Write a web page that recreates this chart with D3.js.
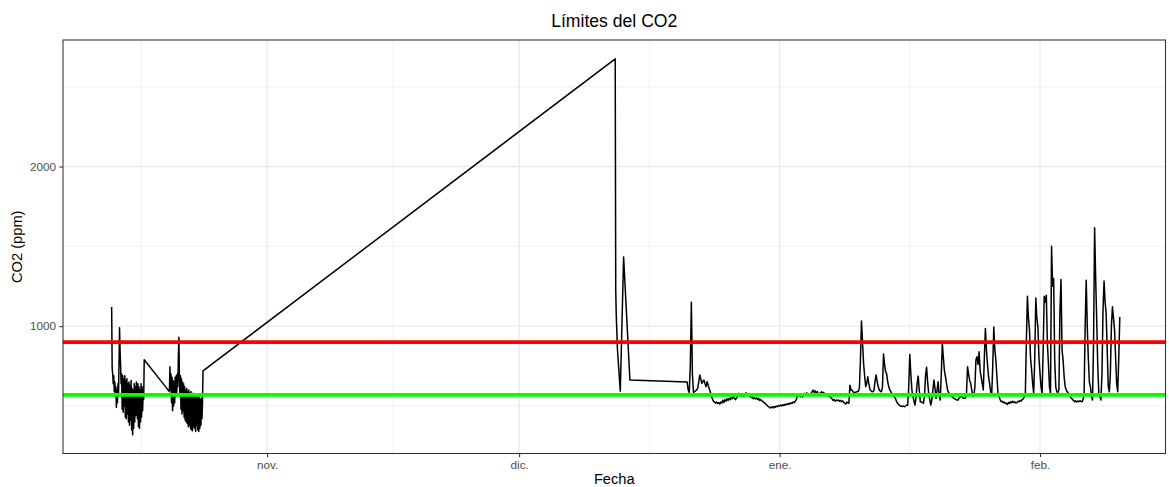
<!DOCTYPE html>
<html>
<head>
<meta charset="utf-8">
<script src="https://cdnjs.cloudflare.com/ajax/libs/d3/7.8.5/d3.min.js"></script>
<style>
  body { margin: 0; background: #fff; }
  text { font-family: "Liberation Sans", Arial, Helvetica, sans-serif; }
</style>
</head>
<body>
<svg id="grafico"></svg>
<script>
// lecturas de octubre, cada 90 minutos
var inicioOct1 = "2022-10-13 12:00";
var co2Oct1 = [1120, 735, 700, 640, 690, 590, 650, 560, 620, 490,
  600, 520, 640, 560, 760, 990, 850, 760, 640, 700,
  480, 690, 460, 670, 500, 690, 430, 660, 420, 670,
  450, 640, 400, 650, 380, 630, 410, 660, 350, 610,
  320, 600, 360, 640, 400, 620, 440, 650, 600, 420,
  640, 370, 620, 360, 600, 400, 640, 430, 620, 470,
  600, 540, 790];

var inicioOct2 = "2022-10-20 09:00";
var co2Oct2 = [590, 745, 600, 700, 520, 680, 470, 660, 500, 650,
  520, 680, 560, 690, 580, 700, 620, 800, 930, 700,
  560, 690, 480, 670, 450, 650, 470, 640, 430, 620,
  410, 600, 400, 610, 390, 590, 370, 600, 380, 580,
  360, 590, 350, 570, 345, 580, 370, 560, 360, 575,
  340, 560, 380, 570, 350, 550, 340, 560, 360, 540,
  380, 550, 420, 520, 720];

// lecturas sueltas de diciembre
var fechasDic = ["2022-12-12 10:30", "2022-12-12 12:00", "2022-12-12 13:30", "2022-12-12 17:00",
  "2022-12-13 01:00", "2022-12-13 10:30", "2022-12-14 04:30"];
var co2Dic = [2675, 1225, 1069, 850, 592, 1433, 662];

// desde el 21 dic., cada 3 horas (una fila por dia)
var inicioInv = "2022-12-21 00:00";
var co2Inv = [
  650, 600, 585, 750, 1150, 700, 585, 590,
  595, 600, 610, 650, 694, 670, 642, 655,
  662, 640, 621, 652, 630, 610, 589, 560,
  545, 530, 525, 518, 525, 515, 522, 512,
  525, 518, 535, 522, 540, 530, 545, 535,
  548, 540, 555, 545, 560, 550, 540, 548,
  565, 580, 562, 575, 560, 572, 558, 570,
  583, 570, 575, 560, 568, 552, 558, 545,
  552, 545, 550, 540, 548, 535, 540, 532,
  530, 522, 518, 510, 505, 498, 494, 488,
  490, 495, 487, 497, 492, 500, 495, 503,
  500, 506, 500, 508, 503, 510, 506, 512,
  510, 517, 512, 520, 516, 525, 521, 530,
  540, 570, 560, 575, 558, 565, 555, 570,
  579, 570, 582, 568, 575, 565, 578, 590,
  600, 585, 595, 580, 590, 570, 578, 583,
  589, 580, 585, 572, 570, 575, 565, 560,
  558, 552, 545, 535, 540, 530, 537, 533,
  537, 530, 535, 527, 532, 522, 517, 512,
  525, 520, 517, 630, 600, 600, 589, 585,
  585, 588, 590, 590, 610, 787, 1033, 900,
  767, 690, 621, 640, 683, 640, 605, 595,
  589, 590, 600, 660, 694, 650, 621, 600,
  592, 589, 620, 825, 760, 714, 700, 650,
  620, 600, 590, 575, 565, 558, 552, 535,
  520, 512, 505, 500, 498, 496, 500, 495,
  500, 506, 505, 620, 823, 700, 600, 560,
  530, 506, 560, 640, 687, 600, 527, 525,
  522, 517, 560, 690, 742, 650, 579, 540,
  506, 540, 600, 662, 610, 548, 600, 652,
  560, 537, 700, 892, 800, 720, 683, 640,
  600, 585, 575, 565, 560, 554, 548, 545,
  540, 537, 537, 550, 555, 562, 555, 548,
  548, 550, 580, 746, 700, 660, 642, 600,
  562, 565, 620, 790, 808, 760, 839, 720,
  683, 640, 600, 800, 986, 850, 760, 683,
  640, 590, 569, 750, 995, 850, 787, 680,
  579, 560, 540, 527, 530, 520, 525, 515,
  517, 510, 522, 515, 527, 520, 530, 522,
  525, 518, 521, 530, 526, 535, 530, 540,
  545, 558, 560, 900, 1187, 1050, 975, 800,
  725, 640, 579, 800, 1177, 1050, 996, 800,
  704, 620, 579, 850, 1187, 1150, 1194, 900,
  767, 620, 579, 1500, 1250, 1298, 787, 620,
  589, 585, 600, 1100, 1292, 850, 787, 680,
  621, 600, 589, 580, 570, 555, 548, 540,
  535, 527, 532, 525, 530, 527, 533, 529,
  527, 540, 579, 1000, 1287, 996, 800, 650,
  621, 560, 537, 900, 1617, 1300, 1037, 750,
  579, 560, 537, 700, 1100, 1283, 1150, 1079,
  850, 620, 589, 700, 1000, 1121, 1050, 975,
  800, 640, 589, 800, 1058];

var limiteAlto = 900, limiteBajo = 570;

var limitesFecha = ["2022-10-07 17:00", "2023-02-15 22:30"];
var ticksFecha = ["2022-11-01 00:00", "2022-12-01 00:00", "2023-01-01 00:00", "2023-02-01 00:00"];
var etiquetasFecha = ["nov.", "dic.", "ene.", "feb."];
var ticksFechaMenores = ["2022-10-17 00:00", "2022-11-16 00:00", "2022-12-16 12:00", "2023-01-16 12:00"];
var ticksCO2 = [1000, 2000];
var ticksCO2Menores = [500, 1500, 2500];

var width = 1169, height = 487;
var margin = {top: 40, right: 3.5, bottom: 33.5, left: 63};

var parseFecha = d3.utcParse("%Y-%m-%d %H:%M");

function tramo(inicio, pasoHoras, valores) {
    var t0 = parseFecha(inicio).getTime();
    return valores.map(function(v, i) {
        return {fecha: new Date(t0 + i * pasoHoras * 3600e3), co2: v};
    });
}

var datos = [].concat(
    tramo(inicioOct1, 1.5, co2Oct1),
    tramo(inicioOct2, 1.5, co2Oct2),
    fechasDic.map(function(f, i) { return {fecha: parseFecha(f), co2: co2Dic[i]}; }),
    tramo(inicioInv, 3, co2Inv)
);

var svg = d3.select("#grafico").attr("width", width).attr("height", height);
svg.append("rect").attr("width", width).attr("height", height).attr("fill", "#fff");

var x0 = margin.left, x1 = width - margin.right;
var y0 = height - margin.bottom, y1 = margin.top;

var xScale = d3.scaleUtc()
    .domain(limitesFecha.map(parseFecha))
    .range([x0, x1]);

// expansion del 5% como en ggplot
var ext = d3.extent(datos, function(d) { return d.co2; });
var pad = (ext[1] - ext[0]) * 0.05;
var yScale = d3.scaleLinear()
    .domain([ext[0] - pad, ext[1] + pad])
    .range([y0, y1]);

// rejilla
var grid = svg.append("g");
grid.selectAll(".vmin").data(ticksFechaMenores.map(parseFecha)).enter().append("line")
    .attr("x1", function(d) { return xScale(d); }).attr("x2", function(d) { return xScale(d); })
    .attr("y1", y1).attr("y2", y0)
    .attr("stroke", "#ebebeb").attr("stroke-width", 0.71);
grid.selectAll(".hmin").data(ticksCO2Menores).enter().append("line")
    .attr("x1", x0).attr("x2", x1)
    .attr("y1", function(d) { return yScale(d); }).attr("y2", function(d) { return yScale(d); })
    .attr("stroke", "#ebebeb").attr("stroke-width", 0.71);
grid.selectAll(".vmaj").data(ticksFecha.map(parseFecha)).enter().append("line")
    .attr("x1", function(d) { return xScale(d); }).attr("x2", function(d) { return xScale(d); })
    .attr("y1", y1).attr("y2", y0)
    .attr("stroke", "#ebebeb").attr("stroke-width", 1.42);
grid.selectAll(".hmaj").data(ticksCO2).enter().append("line")
    .attr("x1", x0).attr("x2", x1)
    .attr("y1", function(d) { return yScale(d); }).attr("y2", function(d) { return yScale(d); })
    .attr("stroke", "#ebebeb").attr("stroke-width", 1.42);

// serie
var lineGen = d3.line()
    .x(function(d) { return xScale(d.fecha); })
    .y(function(d) { return yScale(d.co2); });

svg.append("path")
    .datum(datos)
    .attr("d", lineGen)
    .attr("fill", "none")
    .attr("stroke", "#000")
    .attr("stroke-width", 1.5)
    .attr("stroke-linejoin", "round");

// limites
svg.selectAll(".limite")
    .data([{v: limiteAlto, c: "#ff0000"}, {v: limiteBajo, c: "#00ff00"}])
    .enter().append("line")
    .attr("x1", x0).attr("x2", x1)
    .attr("y1", function(d) { return yScale(d.v); })
    .attr("y2", function(d) { return yScale(d.v); })
    .attr("stroke", function(d) { return d.c; })
    .attr("stroke-width", 3.8);

// borde del panel
svg.append("rect")
    .attr("x", x0).attr("y", y1)
    .attr("width", x1 - x0).attr("height", y0 - y1)
    .attr("fill", "none").attr("stroke", "#333").attr("stroke-width", 1.07);

// ejes
var xAxis = d3.axisBottom(xScale)
    .tickValues(ticksFecha.map(parseFecha))
    .tickFormat(function(d, i) { return etiquetasFecha[i]; })
    .tickSize(3.67).tickPadding(4);
var yAxis = d3.axisLeft(yScale)
    .tickValues(ticksCO2)
    .tickFormat(d3.format("d"))
    .tickSize(3.67).tickPadding(3.3);

var gx = svg.append("g").attr("transform", "translate(0," + y0 + ")").call(xAxis);
var gy = svg.append("g").attr("transform", "translate(" + x0 + ",0)").call(yAxis);
[gx, gy].forEach(function(g) {
    g.select(".domain").remove();
    g.selectAll("line").attr("stroke", "#333").attr("stroke-width", 1.07);
    g.selectAll("text").attr("fill", "#4d4d4d").style("font-size", "11.7px")
        .style("font-family", "'Liberation Sans', Arial, sans-serif");
});

// titulos
var cx = (x0 + x1) / 2;
svg.append("text").attr("x", cx).attr("y", 27)
    .attr("text-anchor", "middle").style("font-size", "17.6px").attr("fill", "#000")
    .text("Límites del CO2");
svg.append("text").attr("x", cx).attr("y", 484)
    .attr("text-anchor", "middle").style("font-size", "14.67px").attr("fill", "#000")
    .text("Fecha");
svg.append("text")
    .attr("transform", "translate(21.5," + ((y0 + y1) / 2) + ") rotate(-90)")
    .attr("text-anchor", "middle").style("font-size", "14.67px").attr("fill", "#000")
    .text("CO2 (ppm)");
</script>
</body>
</html>
